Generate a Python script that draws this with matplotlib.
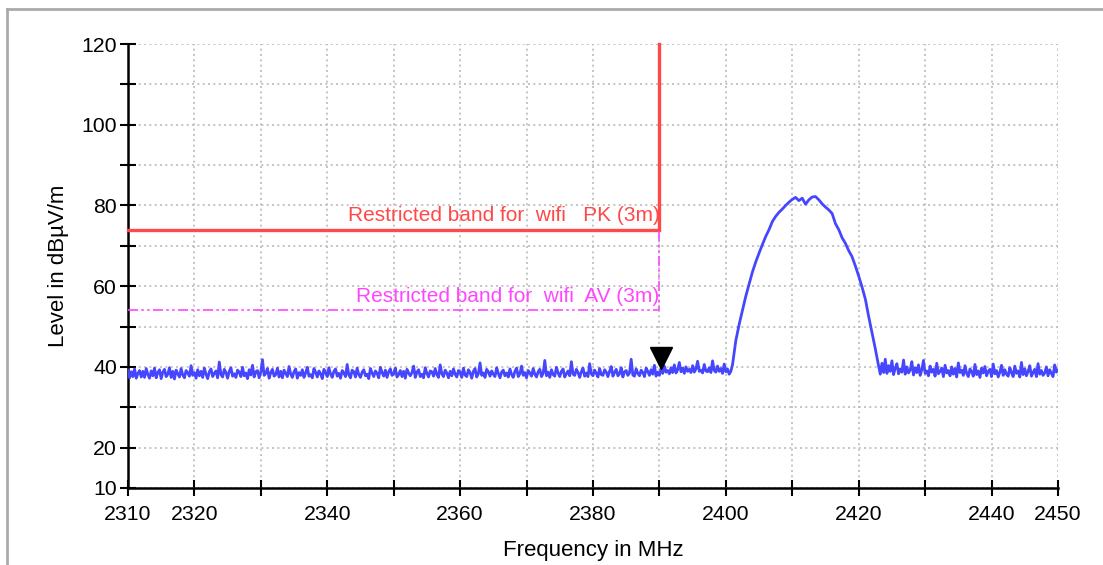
import numpy as np
import matplotlib
matplotlib.use("Agg")
import matplotlib.pyplot as plt
import matplotlib.transforms as mtransforms
from matplotlib.lines import Line2D

plt.rcParams['font.family'] = ['Liberation Sans', 'DejaVu Sans']

# noise floor 2310.00 .. 2400.75 MHz, 0.25 MHz step
noise_left = [
    39.2, 37.3, 38.8, 37.6, 39.5, 37.2, 38.4, 39.1, 37.5, 38.9,
    37.4, 39.6, 38.1, 37.2, 39.0, 37.8, 39.7, 37.3, 38.6, 39.3,
    37.1, 38.7, 39.4, 37.6, 38.2, 39.8, 37.4, 38.9, 37.0, 39.2,
    38.3, 37.5, 39.6, 38.0, 37.3, 39.1, 38.5, 37.7, 40.3, 37.9,
    38.6, 37.2, 39.3, 37.8, 38.9, 37.4, 39.7, 38.2, 37.1, 38.8,
    39.5, 37.6, 38.4, 39.0, 37.3, 41.2, 38.1, 37.5, 39.4, 38.6,
    37.2, 38.9, 39.8, 37.7, 38.3, 37.4, 39.2, 38.7, 37.6, 39.9,
    37.8, 38.5, 37.1, 39.3, 38.0, 40.4, 37.5, 38.8, 39.1, 37.3,
    38.7, 41.8, 37.9, 38.4, 39.6, 37.2, 38.6, 39.4, 37.7, 38.1,
    39.7, 37.5, 38.9, 37.3, 39.2, 38.4, 37.6, 40.1, 38.2, 37.4,
    38.8, 39.5, 37.2, 38.6, 37.9, 39.3, 37.4, 38.5, 39.9, 37.7,
    38.1, 37.3, 39.6, 38.7, 37.5, 39.0, 38.3, 37.1, 39.4, 38.6,
    37.6, 39.8, 38.2, 37.4, 38.9, 39.5, 37.7, 38.4, 37.2, 39.1,
    38.5, 37.6, 40.6, 38.0, 37.3, 39.2, 38.8, 37.5, 39.7, 38.1,
    37.4, 38.7, 39.3, 37.8, 38.2, 37.1, 39.6, 38.5, 37.6, 39.0,
    38.4, 37.3, 39.9, 38.6, 37.7, 39.2, 37.4, 38.8, 39.5, 37.9,
    38.3, 39.7, 37.5, 38.1, 39.1, 37.6, 38.9, 37.2, 39.4, 38.5,
    37.8, 38.6, 40.2, 37.4, 38.7, 39.3, 37.6, 38.2, 37.3, 39.8,
    38.4, 37.5, 39.0, 38.8, 37.7, 39.6, 38.1, 37.4, 40.5, 38.3,
    37.6, 39.2, 38.5, 37.3, 38.9, 37.8, 39.5, 38.2, 37.5, 39.1,
    38.7, 37.4, 39.7, 38.0, 37.6, 39.3, 38.6, 37.2, 38.9, 39.6,
    37.5, 38.3, 41.0, 37.9, 38.5, 37.4, 39.4, 38.8, 37.7, 39.0,
    38.2, 37.6, 39.8, 38.4, 37.3, 38.7, 39.2, 37.8, 38.5, 37.5,
    39.5, 38.1, 37.4, 38.9, 39.7, 37.6, 38.3, 40.2, 37.9, 38.6,
    37.3, 39.1, 38.5, 37.7, 39.6, 38.2, 37.5, 38.8, 39.4, 37.6,
    38.4, 41.6, 37.8, 38.7, 37.4, 39.3, 38.1, 37.7, 39.9, 38.5,
    37.6, 38.9, 39.5, 37.5, 38.3, 39.0, 37.8, 41.3, 38.2, 37.9,
    39.4, 38.6, 37.4, 38.8, 39.7, 37.7, 38.5, 37.6, 40.8, 38.3,
    37.8, 39.2, 38.4, 37.5, 39.6, 38.1, 37.9, 39.3, 38.7, 37.6,
    38.9, 40.1, 37.7, 38.6, 39.4, 37.8, 38.3, 39.8, 37.5, 38.8,
    39.1, 37.9, 38.5, 41.9, 38.0, 37.7, 39.5, 38.4, 37.8, 39.2,
    38.6, 37.6, 39.7, 38.9, 37.9, 39.3, 38.2, 40.4, 37.7, 38.7,
    37.9, 39.6, 38.4, 40.2, 38.7, 39.1, 38.3, 39.8, 38.6, 40.5,
    38.5, 39.3, 41.1, 38.8, 39.7, 38.4, 40.0, 38.9, 39.4, 38.6,
    40.3, 38.7, 39.5, 41.4, 38.9, 39.2, 38.5, 40.6, 39.0, 38.8,
    39.8, 38.6, 41.5, 39.1, 38.7, 40.2, 38.9, 39.6, 38.4, 40.7,
    38.8, 39.5, 38.2, 38.9,
]

# wifi channel 2401.0 .. 2423.0 MHz, 0.5 MHz step
carrier = [
    40.5, 46.5, 50.5, 54.0, 57.5, 60.5, 63.5, 66.0, 68.2,
    70.3, 72.3, 74.0, 76.0, 77.3, 78.3, 79.1, 80.0, 80.8, 81.5,
    82.0, 81.2, 81.8, 80.3, 81.4, 82.1, 82.2, 81.4, 80.4, 79.6,
    78.9, 78.0, 75.5, 74.0, 72.0, 70.6, 68.8, 67.3, 65.0, 62.5,
    59.8, 56.8, 52.5, 48.5, 44.5, 40.2,
]

# noise floor 2423.25 .. 2450.00 MHz, 0.25 MHz step
noise_right = [
    38.2, 40.9, 38.6, 41.9, 38.4, 40.3, 38.9, 41.5, 38.1, 39.7,
    40.8, 38.3, 39.5, 38.7, 41.7, 38.2, 40.0, 38.5, 39.2, 41.3,
    38.0, 39.8, 38.6, 40.5, 37.9, 39.3, 41.6, 38.4, 39.0, 37.8,
    40.2, 38.7, 39.4, 37.7, 40.9, 38.3, 38.9, 39.7, 37.6, 40.4,
    38.5, 39.1, 37.8, 40.0, 38.2, 39.6, 37.5, 41.0, 38.6, 39.2,
    37.9, 40.3, 38.4, 37.6, 39.5, 38.8, 37.7, 40.6, 38.1, 39.0,
    37.4, 39.7, 38.5, 40.1, 37.8, 38.9, 39.4, 37.6, 40.7, 38.3,
    39.1, 37.5, 38.7, 40.4, 37.9, 39.3, 38.2, 37.7, 39.8, 38.6,
    37.6, 40.2, 38.4, 39.0, 37.5, 41.1, 38.1, 39.5, 37.8, 38.9,
    40.3, 37.7, 38.6, 39.4, 37.6, 40.8, 38.2, 39.1, 37.9, 38.5,
    40.0, 37.8, 39.3, 38.4, 37.6, 40.5, 38.7, 39.2,
]

# frequency axis of each sweep segment
f_left = 2310.0 + 0.25 * np.arange(len(noise_left))
f_carrier = 2401.0 + 0.5 * np.arange(len(carrier))
f_right = 2423.25 + 0.25 * np.arange(len(noise_right))
freq = np.concatenate([f_left, f_carrier, f_right])
level = np.array(noise_left + carrier + noise_right)

# limit lines
band_edge = 2390
pk_limit = 74
av_limit = 54
marker_f = 2390.3
marker_lvl = 39.6

x_ticks = np.arange(2310, 2451, 10)
x_labels = ['2310', '2320', '', '2340', '', '2360', '', '2380', '', '2400',
            '', '2420', '', '2440', '2450']
y_ticks = np.arange(10, 121, 10)
y_labels = ['10', '20', '', '40', '', '60', '', '80', '', '100', '', '120']

blue = '#4646ff'
red = '#ff4848'
magenta = '#ff46ff'

fig = plt.figure(figsize=(11.03, 5.65), dpi=100)
ax = fig.add_axes([0.116, 0.1363, 0.8432, 0.7858])

# outer frame (top + left)
fig.add_artist(Line2D([7 / 1103, 1], [1 - 9 / 565, 1 - 9 / 565], transform=fig.transFigure,
                      color='#aaaaaa', lw=2))
fig.add_artist(Line2D([7 / 1103, 7 / 1103], [0, 1 - 9 / 565], transform=fig.transFigure,
                      color='#aaaaaa', lw=2))

ax.plot(freq, level, color=blue, lw=2.0, zorder=3)

ax.plot([2310, band_edge, band_edge], [pk_limit, pk_limit, 120], color=red, lw=2.4, zorder=4,
        solid_joinstyle='miter', clip_on=False)
ax.plot([2310, band_edge, band_edge], [av_limit, av_limit, pk_limit], color=magenta, lw=1.2,
        dashes=[6, 2, 1.5, 2, 1.5, 2], zorder=4)

ax.text(band_edge, pk_limit + 1.2, 'Restricted band for  wifi   PK (3m)', color=red,
        fontsize=15, ha='right', va='bottom')
ax.text(band_edge, av_limit + 1.2, 'Restricted band for  wifi  AV (3m)', color=magenta,
        fontsize=15, ha='right', va='bottom')

offset = mtransforms.offset_copy(ax.transData, fig=fig, x=0, y=11, units='dots')
ax.plot([marker_f], [marker_lvl], marker='v', color='black', markersize=16, transform=offset,
        zorder=5, linestyle='none')

ax.set_xlim(2310, 2450)
ax.set_ylim(10, 120)
ax.set_xticks(x_ticks)
ax.set_xticklabels(x_labels)
ax.set_yticks(y_ticks)
ax.set_yticklabels(y_labels)
ax.tick_params(direction='inout', length=12, width=1.5, labelsize=15.3, colors='black')
ax.tick_params(axis='x', pad=6)
ax.tick_params(axis='y', pad=2)
ax.grid(True, color='#bbbbbb', linestyle=(0, (1.2, 2)), linewidth=1.2)
for s in ['top', 'right']:
    ax.spines[s].set_visible(False)
for s in ['left', 'bottom']:
    ax.spines[s].set_linewidth(1.8)

ax.set_xlabel('Frequency in MHz', fontsize=16, labelpad=12)
ax.set_ylabel('Level in dBµV/m', fontsize=16, labelpad=9)

fig.savefig('out.png', dpi=100)
